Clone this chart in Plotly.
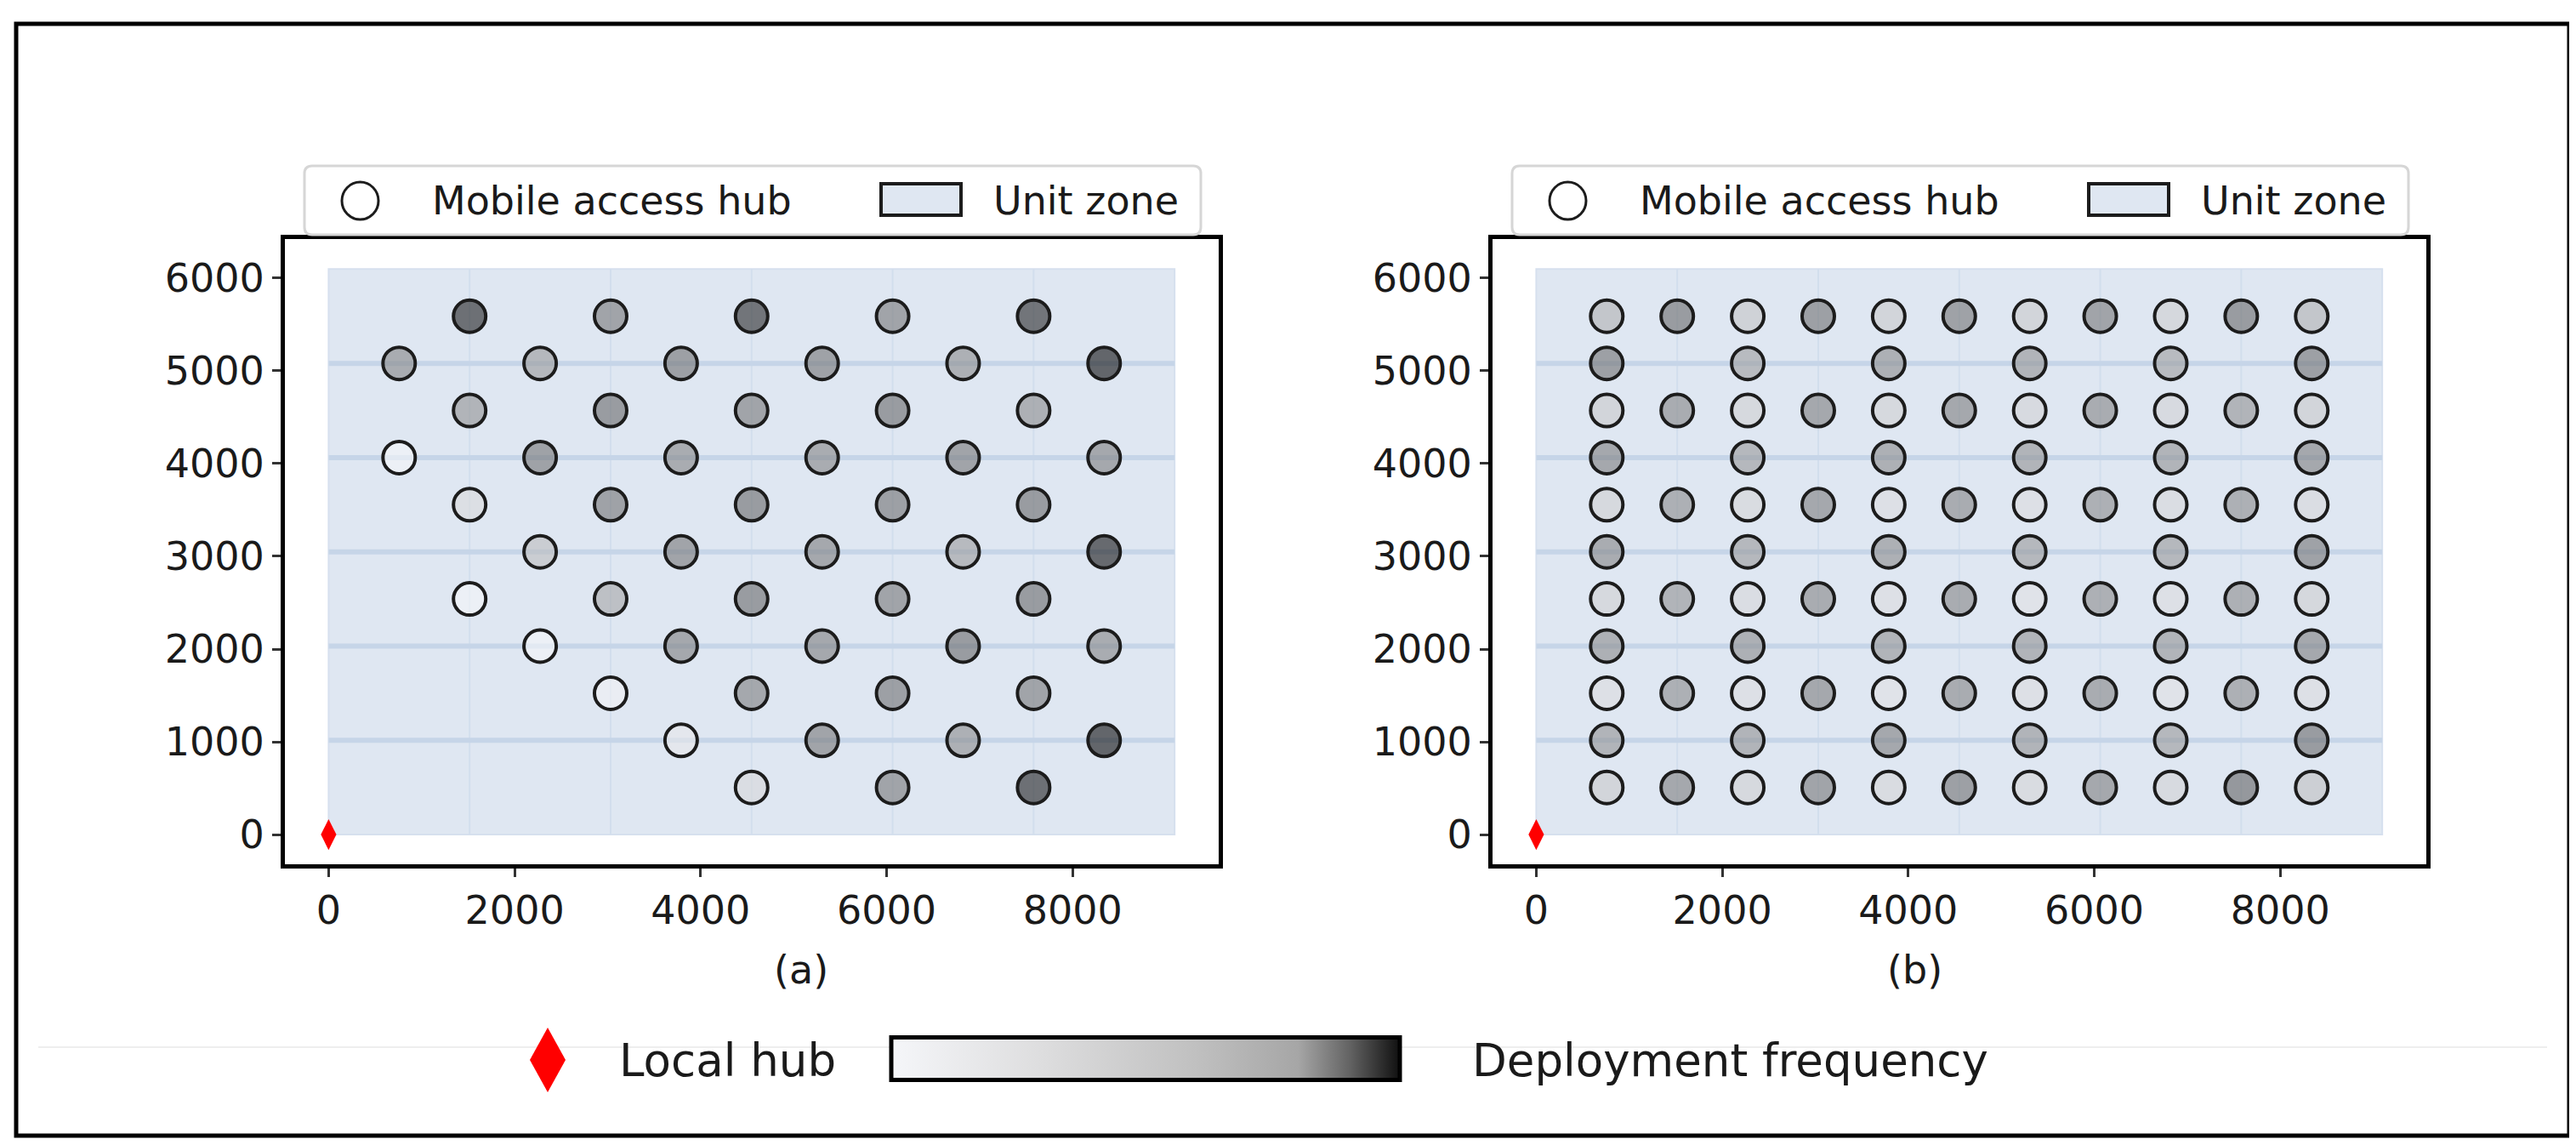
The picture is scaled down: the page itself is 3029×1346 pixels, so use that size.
import plotly.graph_objects as go

W, H = 3029, 1346
FONT = "DejaVu Sans"

# unit zone boundaries (same in both panels)
zone_x_edges = [0, 1516, 3032, 4548, 6064, 7580, 9096]
zone_y_edges = [0, 1016, 2032, 3048, 4064, 5080, 6096]

# local hub
hub_x = [0]
hub_y = [0]

# panel (a): staggered layout, one list per row
a_row_y = [5588, 5080, 4572, 4064, 3556, 3048, 2540, 2032, 1524, 1016, 508]
a_row_x = [
    [1516, 3032, 4548, 6064, 7580],
    [758, 2274, 3790, 5306, 6822, 8338],
    [1516, 3032, 4548, 6064, 7580],
    [758, 2274, 3790, 5306, 6822, 8338],
    [1516, 3032, 4548, 6064, 7580],
    [2274, 3790, 5306, 6822, 8338],
    [1516, 3032, 4548, 6064, 7580],
    [2274, 3790, 5306, 6822, 8338],
    [3032, 4548, 6064, 7580],
    [3790, 5306, 6822, 8338],
    [4548, 6064, 7580],
]
a_freq = [
    [0.98, 0.87, 0.97, 0.87, 0.97],
    [0.85, 0.82, 0.88, 0.875, 0.84, 1.0],
    [0.83, 0.89, 0.87, 0.89, 0.84],
    [0.0, 0.875, 0.85, 0.85, 0.87, 0.86],
    [0.33, 0.875, 0.89, 0.88, 0.89],
    [0.63, 0.87, 0.86, 0.815, 0.99],
    [0.0, 0.80, 0.89, 0.87, 0.89],
    [0.0, 0.86, 0.86, 0.89, 0.85],
    [0.05, 0.86, 0.88, 0.87],
    [0.18, 0.87, 0.84, 1.0],
    [0.36, 0.87, 0.98],
]

# panel (b): regular layout
b_full_cols = [758, 1516, 2274, 3032, 3790, 4548, 5306, 6064, 6822, 7580, 8338]
b_half_cols = [758, 2274, 3790, 5306, 6822, 8338]
b_row_y = [5588, 5080, 4572, 4064, 3556, 3048, 2540, 2032, 1524, 1016, 508]
b_row_x = [b_full_cols, b_half_cols] * 5 + [b_full_cols]
b_freq = [
    [0.72, 0.89, 0.55, 0.88, 0.50, 0.875, 0.50, 0.87, 0.45, 0.89, 0.72],
    [0.88, 0.81, 0.84, 0.83, 0.81, 0.88],
    [0.50, 0.85, 0.43, 0.86, 0.43, 0.86, 0.41, 0.85, 0.41, 0.83, 0.50],
    [0.86, 0.82, 0.84, 0.83, 0.83, 0.86],
    [0.43, 0.84, 0.38, 0.86, 0.31, 0.85, 0.31, 0.84, 0.36, 0.84, 0.36],
    [0.85, 0.82, 0.84, 0.82, 0.82, 0.875],
    [0.43, 0.83, 0.36, 0.85, 0.31, 0.85, 0.25, 0.84, 0.31, 0.84, 0.45],
    [0.84, 0.84, 0.83, 0.83, 0.83, 0.86],
    [0.31, 0.84, 0.31, 0.86, 0.25, 0.85, 0.31, 0.85, 0.25, 0.84, 0.31],
    [0.83, 0.83, 0.86, 0.83, 0.82, 0.89],
    [0.50, 0.86, 0.43, 0.87, 0.38, 0.88, 0.38, 0.86, 0.41, 0.90, 0.60],
]

freq_scale = [
    [0.0, "rgb(245,246,249)"],
    [0.3, "rgb(221,221,222)"],
    [0.6, "rgb(192,192,192)"],
    [0.8, "rgb(166,166,166)"],
    [0.9, "rgb(100,100,100)"],
    [1.0, "rgb(16,16,16)"],
]
ZONE_FILL = "rgb(223,231,242)"


def px_x(p):
    return p / W


def px_y(p):
    return 1 - p / H


def flatten(rows_x, rows_y, rows_v):
    xs, ys, vs = [], [], []
    for rx, ry, rv in zip(rows_x, rows_y, rows_v):
        xs += rx
        ys += [ry] * len(rx)
        vs += rv
    return xs, ys, vs


fig = go.Figure()

panels = [("x", "y", a_row_x, a_row_y, a_freq), ("x2", "y2", b_row_x, b_row_y, b_freq)]
for i, (xr, yr, rx, ry, rv) in enumerate(panels):
    xs, ys, vs = flatten(rx, ry, rv)
    fill = dict(size=38, color=vs, colorscale=freq_scale, cmin=0, cmax=1, opacity=0.6, line=dict(width=0))
    if i == 0:
        fill.update(
            showscale=True,
            colorbar=dict(
                orientation="h", x=px_x(1339), xanchor="center", y=px_y(1238.5), yanchor="middle",
                len=598 / W, lenmode="fraction", thickness=50, thicknessmode="pixels",
                outlinewidth=5, outlinecolor="black", showticklabels=False, ticks="",
                xpad=0, ypad=0,
            ),
        )
    fig.add_trace(go.Scatter(x=xs, y=ys, xaxis=xr, yaxis=yr, mode="markers", marker=fill,
                             hoverinfo="skip", showlegend=False))
    fig.add_trace(go.Scatter(x=xs, y=ys, xaxis=xr, yaxis=yr, mode="markers",
                             marker=dict(size=38, color="rgba(0,0,0,0)", line=dict(color="#1c1c1c", width=4)),
                             hoverinfo="skip", showlegend=False))
    fig.add_trace(go.Scatter(x=hub_x, y=hub_y, xaxis=xr, yaxis=yr, mode="markers", cliponaxis=False,
                             marker=dict(symbol="diamond-tall", size=26, color="red", line=dict(width=0)),
                             hoverinfo="skip", showlegend=False))

shapes = []
# unit zones
for xr, yr in [("x", "y"), ("x2", "y2")]:
    shapes.append(dict(type="rect", xref=xr, yref=yr, x0=zone_x_edges[0], x1=zone_x_edges[-1],
                       y0=zone_y_edges[0], y1=zone_y_edges[-1], fillcolor=ZONE_FILL,
                       line=dict(color="rgb(214,224,238)", width=2), layer="below"))
    for xe in zone_x_edges[1:-1]:
        shapes.append(dict(type="line", xref=xr, yref=yr, x0=xe, x1=xe, y0=zone_y_edges[0], y1=zone_y_edges[-1],
                           line=dict(color="rgb(210,222,237)", width=2), layer="below"))
    for ye in zone_y_edges[1:-1]:
        shapes.append(dict(type="line", xref=xr, yref=yr, x0=zone_x_edges[0], x1=zone_x_edges[-1], y0=ye, y1=ye,
                           line=dict(color="rgb(198,213,232)", width=6), layer="below"))

# outer frame and faint separator
shapes.append(dict(type="rect", xref="paper", yref="paper", x0=px_x(11), x1=px_x(3013), y0=px_y(1327), y1=px_y(20),
                   line=dict(color="black", width=5)))
shapes.append(dict(type="line", xref="paper", yref="paper", x0=px_x(37), x1=px_x(2987), y0=px_y(1223), y1=px_y(1223),
                   line=dict(color="#eeeeee", width=2), layer="below"))


def rounded_box(x0, y0, x1, y1, r):
    rx, ry = r / W, r / H
    X0, X1, Y0, Y1 = px_x(x0), px_x(x1), px_y(y1), px_y(y0)
    return (f"M{X0 + rx},{Y0} L{X1 - rx},{Y0} Q{X1},{Y0} {X1},{Y0 + ry} L{X1},{Y1 - ry} Q{X1},{Y1} {X1 - rx},{Y1} "
            f"L{X0 + rx},{Y1} Q{X0},{Y1} {X0},{Y1 - ry} L{X0},{Y0 + ry} Q{X0},{Y0} {X0 + rx},{Y0} Z")


annotations = []
for off in [0, 1420]:
    shapes.append(dict(type="path", xref="paper", yref="paper", path=rounded_box(350 + off, 187, 1404 + off, 268, 9),
                       fillcolor="white", line=dict(color="#d6d6d6", width=3)))
    shapes.append(dict(type="circle", xref="paper", yref="paper", x0=px_x(394 + off), x1=px_x(437 + off),
                       y0=px_y(250), y1=px_y(206), fillcolor="white", line=dict(color="#1c1c1c", width=3)))
    shapes.append(dict(type="rect", xref="paper", yref="paper", x0=px_x(1028 + off), x1=px_x(1122 + off),
                       y0=px_y(245), y1=px_y(208), fillcolor=ZONE_FILL, line=dict(color="#1c1c1c", width=4)))
    annotations.append(dict(xref="paper", yref="paper", x=px_x(498 + off), y=px_y(228), xanchor="left",
                            yanchor="middle", text="Mobile access hub", showarrow=False,
                            font=dict(size=46, color="#1a1a1a", family=FONT)))
    annotations.append(dict(xref="paper", yref="paper", x=px_x(1158 + off), y=px_y(228), xanchor="left",
                            yanchor="middle", text="Unit zone", showarrow=False,
                            font=dict(size=46, color="#1a1a1a", family=FONT)))

# bottom legend: local hub symbol
cx, cy, hw, hh = 636, 1238, 21, 38
shapes.append(dict(type="path", xref="paper", yref="paper",
                   path=f"M{px_x(cx)},{px_y(cy - hh)} L{px_x(cx + hw)},{px_y(cy)} L{px_x(cx)},{px_y(cy + hh)} "
                        f"L{px_x(cx - hw)},{px_y(cy)} Z",
                   fillcolor="red", line=dict(width=0)))
annotations += [
    dict(xref="paper", yref="paper", x=px_x(900), y=px_y(1132), yanchor="middle", text="(a)", showarrow=False,
         font=dict(size=46, color="#1a1a1a", family=FONT)),
    dict(xref="paper", yref="paper", x=px_x(2278), y=px_y(1132), yanchor="middle", text="(b)", showarrow=False,
         font=dict(size=46, color="#1a1a1a", family=FONT)),
    dict(xref="paper", yref="paper", x=px_x(718), y=px_y(1238), xanchor="left", yanchor="middle",
         text="Local hub", showarrow=False, font=dict(size=53, color="#1a1a1a", family=FONT)),
    dict(xref="paper", yref="paper", x=px_x(1721), y=px_y(1238), xanchor="left", yanchor="middle",
         text="Deployment frequency", showarrow=False, font=dict(size=53, color="#1a1a1a", family=FONT)),
]

axis_common = dict(
    showline=True, linecolor="black", linewidth=5, mirror=True, showgrid=False, zeroline=False,
    ticks="outside", ticklen=10, tickwidth=3, tickcolor="#333",
    tickfont=dict(size=46, color="#1a1a1a", family=FONT),
)
x_range = [-470, 9570]
y_range = [-320, 6420]
x_ticks = [0, 2000, 4000, 6000, 8000]
y_ticks = [0, 1000, 2000, 3000, 4000, 5000, 6000]

fig.update_layout(
    width=W, height=H, margin=dict(l=0, r=0, t=0, b=0),
    paper_bgcolor="white", plot_bgcolor="white", showlegend=False,
    xaxis=dict(axis_common, domain=[px_x(327), px_x(1425)], range=x_range, tickvals=x_ticks, anchor="y"),
    yaxis=dict(axis_common, domain=[px_y(1008), px_y(273)], range=y_range, tickvals=y_ticks, anchor="x"),
    xaxis2=dict(axis_common, domain=[px_x(1747), px_x(2845)], range=x_range, tickvals=x_ticks, anchor="y2"),
    yaxis2=dict(axis_common, domain=[px_y(1008), px_y(273)], range=y_range, tickvals=y_ticks, anchor="x2"),
    shapes=shapes, annotations=annotations,
)

fig.write_html("out.html")
